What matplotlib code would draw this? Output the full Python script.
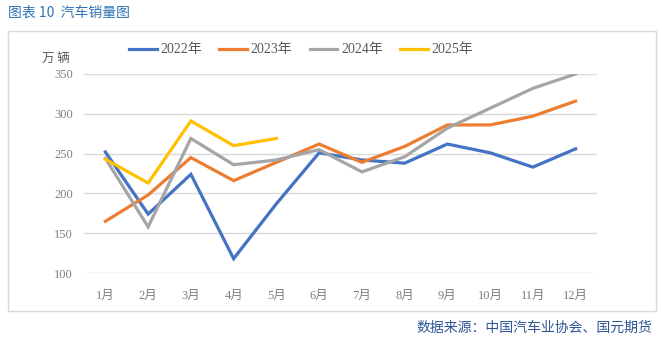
import matplotlib
matplotlib.use("Agg")
import matplotlib.pyplot as plt
from matplotlib.patches import Rectangle

months = ["1月", "2月", "3月", "4月", "5月", "6月", "7月", "8月", "9月", "10月", "11月", "12月"]
s2022 = [252, 174, 224, 118, 187, 251, 242, 238, 262, 251, 233, 256]
s2023 = [165, 198, 245, 216, 239, 262, 239, 259, 286, 286, 297, 316]
s2024 = [244, 158, 269, 236, 242, 255, 227, 246, 282, 307, 332, 350]
s2025 = [243, 213, 291, 260, 269]
series_names = ["2022年", "2023年", "2024年", "2025年"]
colors = ["#4472C4", "#ED7D31", "#A5A5A5", "#FFC000"]
yticks = [100, 150, 200, 250, 300, 350]

plt.rcParams['font.family'] = ['Liberation Serif', 'Noto Sans CJK SC']

fig = plt.figure(figsize=(6.62, 3.45), dpi=100)
W, H = 662, 345

# frame box
fig.patches.append(Rectangle((8 / W, 1 - 311 / H), (656 - 8) / W, (311 - 31) / H,
                             transform=fig.transFigure, fill=False,
                             edgecolor="#D9D9D9", linewidth=1.0))

ax = fig.add_axes([84 / W, 1 - 273 / H, (597 - 84) / W, (273 - 74) / H])
x = list(range(len(months)))
for data, name, c in zip([s2022, s2023, s2024, s2025], series_names, colors):
    ax.plot(x[:len(data)], data, color=c, lw=2.3, label=name, solid_joinstyle='miter')

ax.set_xlim(-0.5, len(months) - 0.5)
ax.set_ylim(100, 350)
ax.set_yticks(yticks)
ax.set_xticks(x)
ax.set_xticklabels(months)
ax.grid(axis='y', color="#D9D9D9", lw=1)
ax.set_axisbelow(True)
for s in ax.spines.values():
    s.set_visible(False)
ax.tick_params(axis='both', length=0, labelsize=9, colors="#7F7F7F")
ax.tick_params(axis='x', pad=12)
ax.tick_params(axis='y', pad=8)

fig.text(42 / W, 1 - 58 / H, "万 辆", fontsize=9, color="#595959", va='center', ha='left',
         family=['Noto Sans CJK SC'])

leg = fig.legend(loc='center', bbox_to_anchor=(301 / W, 1 - 50 / H), ncol=4, frameon=False,
                 fontsize=10, handlelength=2.0, columnspacing=1.25, handletextpad=0.25)
for t in leg.get_texts():
    t.set_color("#595959")

fig.text(8 / W, 1 - 13 / H, "图表 10  汽车销量图", fontsize=10, color="#2E75B6",
         va='center', ha='left', family=['Noto Sans CJK SC'])
fig.text(652 / W, 1 - 328 / H, "数据来源：中国汽车业协会、国元期货", fontsize=10,
         color="#2F5597", va='center', ha='right', family=['Noto Sans CJK SC'])

fig.savefig("out.png", dpi=100)
